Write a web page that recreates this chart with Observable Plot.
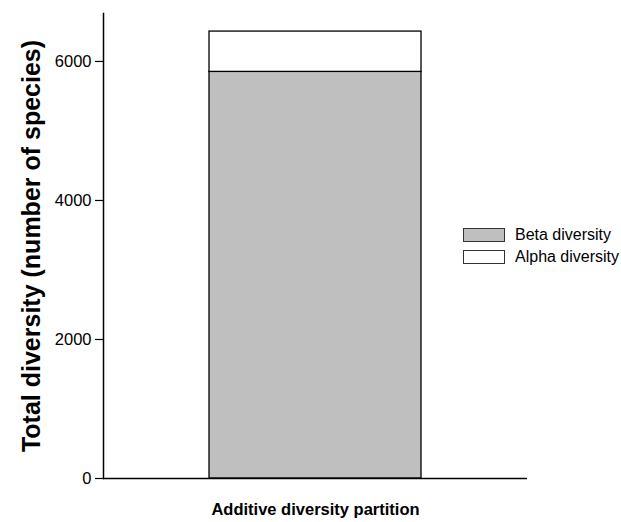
<!DOCTYPE html>
<html>
<head>
<meta charset="utf-8">
<script src="https://cdn.jsdelivr.net/npm/d3@7"></script>
<script src="https://cdn.jsdelivr.net/npm/@observablehq/plot@0.6"></script>
<style>
  html, body { margin: 0; padding: 0; background: #fff; }
  #wrap { position: relative; width: 621px; height: 522px; font-family: "Liberation Sans", Arial, sans-serif; }
  #legend { position: absolute; left: 463px; top: 224px; font-size: 16px; color: #000; white-space: nowrap; }
  .item { display: flex; align-items: center; height: 22px; }
  .sw { width: 40px; height: 12px; border: 1px solid #333; margin-right: 10px; }
</style>
</head>
<body>
<div id="wrap"></div>
<script>
const partition = ["Additive diversity partition"];
const categories = ["Beta diversity", "Alpha diversity"];
const values = [5850, 580];
const colors = ["#bfbfbf", "#ffffff"];
const yTicks = [0, 2000, 4000, 6000];
const yLabel = "Total diversity (number of species)";

const data = categories.map((c, i) => ({part: partition[0], cat: c, value: values[i]}));

const chart = Plot.plot({
  width: 621,
  height: 522,
  marginLeft: 103,
  marginRight: 94,
  marginTop: 13,
  marginBottom: 44,
  style: {fontFamily: "Liberation Sans, Arial, sans-serif", color: "#000", background: "#fff"},
  x: {domain: partition, paddingInner: 0, paddingOuter: 0.5},
  y: {domain: [0, 6690]},
  color: {domain: categories, range: colors},
  marks: [
    Plot.barY(data, {x: "part", y: "value", fill: "cat", stroke: "#000", strokeWidth: 1.3}),
    Plot.ruleY([0], {stroke: "#000", strokeWidth: 1.5}),
    Plot.frame({anchor: "left", stroke: "#000", strokeWidth: 1.5}),
    Plot.axisY({ticks: yTicks, tickFormat: d => String(d), tickSize: 8, tickPadding: 4, fontSize: 16.5, label: null, strokeWidth: 1.2}),
    Plot.axisY({ticks: [], label: yLabel, labelAnchor: "center", labelArrow: "none", labelOffset: 81, fontSize: 25, fontWeight: "bold"}),
    Plot.axisX({tickSize: 0, tickPadding: 25, fontSize: 16.5, fontWeight: "bold", label: null})
  ]
});
document.getElementById("wrap").appendChild(chart);

const legend = document.createElement("div");
legend.id = "legend";
categories.forEach((c, i) => {
  const item = document.createElement("div");
  item.className = "item";
  const sw = document.createElement("div");
  sw.className = "sw";
  sw.style.background = colors[i];
  const t = document.createElement("span");
  t.textContent = c;
  item.appendChild(sw);
  item.appendChild(t);
  legend.appendChild(item);
});
document.getElementById("wrap").appendChild(legend);
</script>
</body>
</html>
